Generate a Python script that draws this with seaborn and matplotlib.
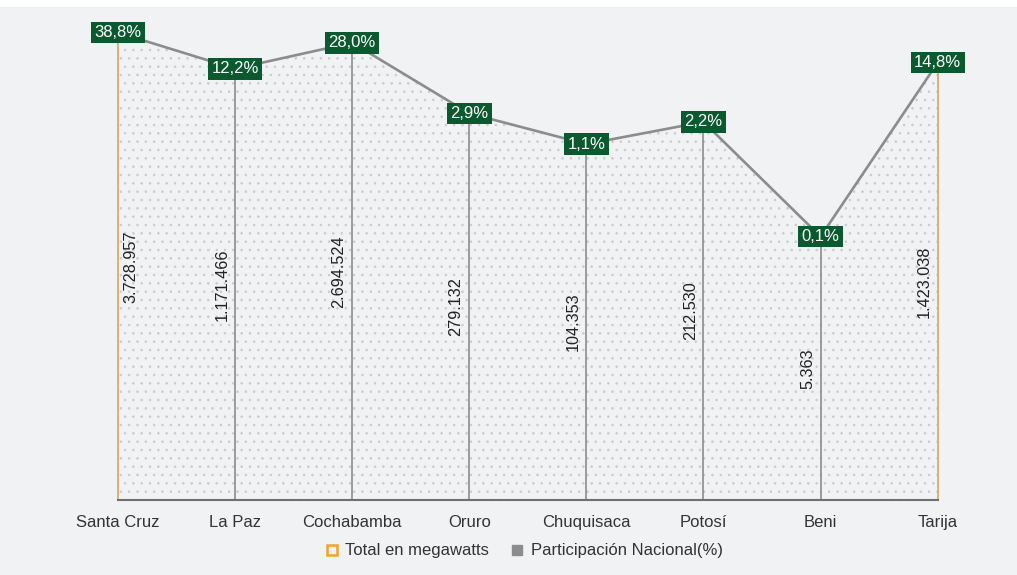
import numpy as np
import seaborn as sns
import matplotlib.pyplot as plt
from matplotlib.lines import Line2D
from matplotlib.patches import Rectangle

departamentos = ['Santa Cruz', 'La Paz', 'Cochabamba', 'Oruro',
                 'Chuquisaca', 'Potosí', 'Beni', 'Tarija']
megawatts = [3728957, 1171466, 2694524, 279132, 104353, 212530, 5363, 1423038]
participacion = ['38,8%', '12,2%', '28,0%', '2,9%', '1,1%', '2,2%', '0,1%', '14,8%']

BG = '#f1f2f4'
GREEN = '#0b5a2f'
GRAY = '#8c8c8c'
ORANGE = '#d9a65c'

sns.set_theme(style='white')
plt.rcParams['font.family'] = ['Liberation Sans', 'DejaVu Sans']
plt.rcParams['hatch.linewidth'] = 0.6

fig = plt.figure(figsize=(10.17, 5.75), dpi=100, facecolor=BG)
ax = fig.add_axes([0.116, 0.1304, 0.806, 0.874])
ax.set_facecolor('none')

x = np.arange(len(departamentos))
ybase = 1.15

# dotted area under the line
ax.fill_between(x, ybase, megawatts, facecolor='none', edgecolor='#c9cbce',
                hatch='..', linewidth=0, zorder=1)

# drop lines, the two outer ones in orange
colors = [ORANGE] + [GRAY] * (len(x) - 2) + [ORANGE]
ax.vlines(x, ybase, megawatts, colors=colors, linewidth=1.2, zorder=2,
          clip_on=False)

sns.lineplot(x=x, y=megawatts, ax=ax, color=GRAY, linewidth=1.9, zorder=3)

ax.set_yscale('log')
ax.set_ylim(ybase, ybase * 1e7)
ax.set_xlim(0, len(x) - 1)

# percentage boxes
for i, (v, p) in enumerate(zip(megawatts, participacion)):
    ax.text(i, v, p, ha='center', va='center', color='white', fontsize=12,
            bbox=dict(boxstyle='square,pad=0.2', fc=GREEN, ec='none'),
            zorder=5, clip_on=False)

# megawatt values, rotated
for i, v in enumerate(megawatts):
    lbl = f'{v:,}'.replace(',', '.')
    dx = 9.5 if i == 0 else -9.5
    ax.annotate(lbl, (i, np.sqrt(v * ybase)), xytext=(dx, 0),
                textcoords='offset points', rotation=90, ha='center',
                va='center', fontsize=11.7, color='#222222', zorder=4)

ax.set_xticks(x)
ax.set_xticklabels(departamentos, fontsize=12, color='#333333')
ax.tick_params(axis='x', length=0, pad=11)
ax.set_yticks([])
ax.yaxis.set_minor_locator(plt.NullLocator())
for s in ['top', 'left', 'right']:
    ax.spines[s].set_visible(False)
ax.spines['bottom'].set_color('#707070')
ax.spines['bottom'].set_linewidth(1.5)

handles = [
    Line2D([], [], marker='s', linestyle='none', markerfacecolor='none',
           markeredgecolor='#f0a428', markeredgewidth=1.8, markersize=7),
    Line2D([], [], marker='s', linestyle='none', markerfacecolor=GRAY,
           markeredgecolor=GRAY, markersize=7),
]
fig.legend(handles, ['Total en megawatts', 'Participación Nacional(%)'],
           loc='center', bbox_to_anchor=(0.515, 0.042), ncol=2, frameon=False,
           fontsize=12, handlelength=0.8, handletextpad=0.4, columnspacing=1.3,
           labelcolor='#333333')

# white band at the top
fig.patches.append(Rectangle((0, 0.988), 1, 0.012, transform=fig.transFigure,
                             facecolor='white', edgecolor='none', zorder=0))

fig.savefig('out.png', dpi=100, facecolor=BG)
